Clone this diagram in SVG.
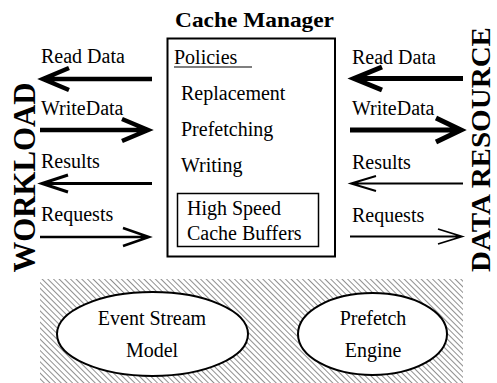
<svg xmlns="http://www.w3.org/2000/svg" width="497" height="383" viewBox="0 0 497 383" font-family="'Liberation Serif', Tinos, 'Times New Roman', Times, 'Nimbus Roman', serif">
<style>
text{font-family:"Liberation Serif",Tinos,"Times New Roman",Times,"Nimbus Roman",serif;fill:#000}
.t{font-size:20px}
.b{font-weight:bold}
.m{text-anchor:middle}
.box{fill:#fff;stroke:#000}
.arr{fill:none;stroke:#000;stroke-linecap:butt;stroke-linejoin:miter}
</style>
<defs>
<pattern id="hatch" width="4" height="4" patternUnits="userSpaceOnUse" patternTransform="rotate(-45)">
<rect width="4" height="4" fill="#fff"/>
<line x1="0" y1="0" x2="0" y2="4" stroke="#333" stroke-width="1.1"/>
</pattern>
</defs>
<rect width="497" height="383" fill="#fff"/>

<g id="workload"><text class="b m" font-size="31" transform="translate(35,177.5) rotate(-90)" textLength="190" lengthAdjust="spacingAndGlyphs">WORKLOAD</text></g>
<g id="data-resource"><text class="b m" font-size="28" transform="translate(490,149.5) rotate(-90)" textLength="245" lengthAdjust="spacingAndGlyphs">DATA RESOURCE</text></g>

<g id="cache-manager">
<text class="b" font-size="22" x="175" y="27" textLength="159" lengthAdjust="spacingAndGlyphs">Cache Manager</text>
<rect class="box" x="167.5" y="38.5" width="167.5" height="218" stroke-width="2"/>
<text class="t" x="174" y="64">Policies</text>
<line x1="174" y1="67" x2="252" y2="67" stroke="#000" stroke-width="1.2"/>
<text class="t" x="181" y="100">Replacement</text>
<text class="t" x="181" y="136">Prefetching</text>
<text class="t" x="181" y="172">Writing</text>
</g>
<g id="cache-buffers">
<rect class="box" x="177.5" y="193.5" width="141" height="53" stroke-width="1.5"/>
<text class="t" x="187" y="215">High Speed</text>
<text class="t" x="187" y="240">Cache Buffers</text>
</g>

<g id="events">
<rect x="40" y="279" width="423" height="104" fill="url(#hatch)"/>
<g id="event-stream-model">
<ellipse class="box" cx="152.5" cy="334" rx="95.5" ry="42" stroke-width="2"/>
<text class="t m" x="152" y="325">Event Stream</text>
<text class="t m" x="152" y="357">Model</text>
</g>
<g id="prefetch-engine">
<ellipse class="box" cx="372.5" cy="334" rx="74.5" ry="41" stroke-width="2"/>
<text class="t m" x="373" y="325">Prefetch</text>
<text class="t m" x="373" y="357">Engine</text>
</g>
</g>

<g id="labels">
<text class="t" x="41" y="63">Read Data</text>
<text class="t" x="41" y="115">WriteData</text>
<text class="t" x="41" y="168">Results</text>
<text class="t" x="41" y="221">Requests</text>
<text class="t" x="352" y="64">Read Data</text>
<text class="t" x="352" y="115">WriteData</text>
<text class="t" x="352" y="169">Results</text>
<text class="t" x="352" y="222">Requests</text>
</g>

<g id="connectors">
<path class="arr" stroke-width="4.5" d="M152,79 H43 M69,68 L43,79 L69,90"/>
<path class="arr" stroke-width="4.5" d="M40,130 H148 M122,119 L148,130 L122,141"/>
<path class="arr" stroke-width="3" d="M152,183.5 H42 M68,175 L42,183.5 L68,192"/>
<path class="arr" stroke-width="2.5" d="M40,237 H149 M123,228 L149,237 L123,246"/>
<path class="arr" stroke-width="5" d="M463,78.5 H354 M382,67 L354,78.5 L382,90"/>
<path class="arr" stroke-width="5" d="M350,130 H461 M436,118 L461,130 L436,142"/>
<path class="arr" stroke-width="2" d="M463,183.5 H351 M376,176 L351,183.5 L376,191"/>
<path class="arr" stroke-width="1.8" d="M350,236.5 H462 M438,229 L462,236.5 L438,244"/>
</g>
</svg>
